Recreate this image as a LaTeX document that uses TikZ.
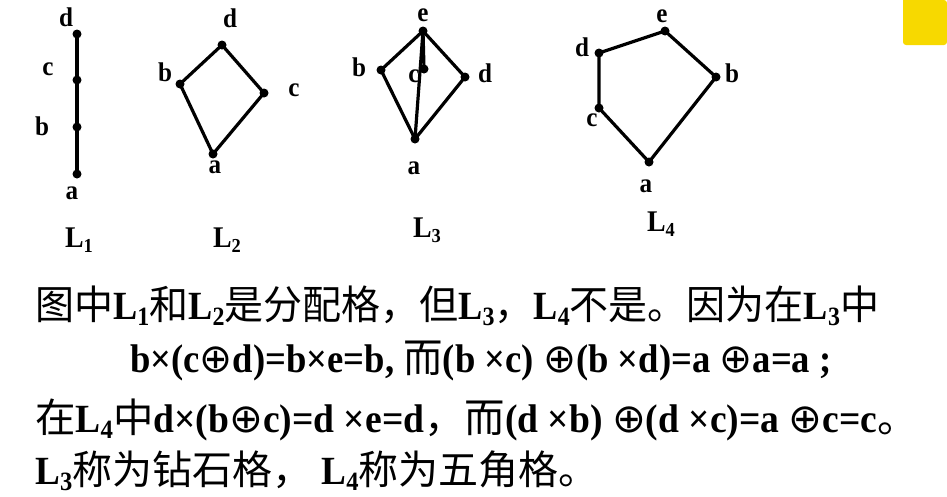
\documentclass[tikz,border=0pt]{standalone}
\usepackage{fontspec}
\setmainfont{Liberation Serif}[FakeStretch=0.93]
\newfontfamily\cjk{Noto Sans CJK SC}
\newfontfamily\symf{DejaVu Sans}
\newcommand\Lsub[1]{L\raisebox{-0.16em}{\scalebox{0.66}{#1}}}
\newcommand\zh[1]{{\cjk\mdseries #1}}
\newcommand\op{{\symf\mdseries ⊕}}
\definecolor{slideyellow}{HTML}{F7D900}
\tikzset{
  dot/.style={circle, fill=black, inner sep=0pt, minimum size=9pt},
  edge/.style={line width=3.2pt},
  lab/.style={font=\fontsize{27}{27}\selectfont\bfseries, inner sep=0pt},
  title/.style={font=\fontsize{30}{30}\selectfont\bfseries, inner sep=0pt},
  txt/.style={anchor=base west, inner sep=0pt, font=\fontsize{40}{40}\selectfont\bfseries}
}
\begin{document}
\begin{tikzpicture}[x=1pt,y=-1pt]
\useasboundingbox (0,0) rectangle (947,496);
\fill[slideyellow] (947,0) -- (903,0) -- (903,40) [rounded corners=3pt] -- (903,45) -- (947,45) -- cycle;
% L1
\node[dot] (d1) at (77,34) {};
\node[dot] (c1) at (77,80) {};
\node[dot] (b1) at (77,127) {};
\node[dot] (a1) at (77,174) {};
\draw[edge] (d1.center) -- (c1.center) -- (b1.center) -- (a1.center);
\node[lab] (ld1) at (66,17) {d};
\node[lab] (lc1) at (48,69) {c};
\node[lab] (lb1) at (42,126) {b};
\node[lab] (la1) at (72,193) {a};
\node[title] (t1) at (79,240) {\Lsub{1}};
% L2
\node[dot] (d2) at (222,45) {};
\node[dot] (b2) at (180,84) {};
\node[dot] (c2) at (264,93) {};
\node[dot] (a2) at (213,154) {};
\draw[edge] (a2.center) -- (b2.center) -- (d2.center) -- (c2.center) -- (a2.center);
\node[lab] (ld2) at (230,18) {d};
\node[lab] (lb2) at (165,72) {b};
\node[lab] (lc2) at (294,90) {c};
\node[lab] (la2) at (215,167) {a};
\node[title] (t2) at (227,240) {\Lsub{2}};
% L3
\node[dot] (e3) at (423,31) {};
\node[dot] (b3) at (381,70) {};
\node[dot] (c3) at (424,69) {};
\node[dot] (d3) at (465,77) {};
\node[dot] (a3) at (415,139) {};
\draw[edge] (a3.center) -- (b3.center) -- (e3.center) -- (d3.center) -- (a3.center);
\draw[edge] (a3.center) -- (e3.center);
\draw[edge] (c3.center) -- (e3.center);
\node[lab] (le3) at (423,15) {e};
\node[lab] (lb3) at (359,67) {b};
\node[lab] (lc3) at (414,76) {c};
\node[lab] (ld3) at (485,73) {d};
\node[lab] (la3) at (414,168) {a};
\node[title] (t3) at (427,230) {\Lsub{3}};
% L4
\node[dot] (d4) at (599,53) {};
\node[dot] (c4) at (599,108) {};
\node[dot] (a4) at (649,162) {};
\node[dot] (e4) at (665,31) {};
\node[dot] (b4) at (716,77) {};
\draw[edge] (a4.center) -- (c4.center) -- (d4.center) -- (e4.center) -- (b4.center) -- (a4.center);
\node[lab] (ld4) at (582,47) {d};
\node[lab] (lc4) at (592,120) {c};
\node[lab] (la4) at (646,186) {a};
\node[lab] (le4) at (662,16) {e};
\node[lab] (lb4) at (732,73) {b};
\node[title] (t4) at (661,224) {\Lsub{4}};
% text
\node[txt] (line1) at (35,319) {\scalebox{0.975}[1]{\zh{图中}\Lsub{1}\zh{和}\Lsub{2}\zh{是分配格，但}\Lsub{3}\zh{，}\Lsub{4}\zh{不是。因为在}\Lsub{3}\zh{中}}};
\node[txt] (line2) at (130,372) {\scalebox{0.985}[1]{b×(c\op d)=b×e=b,\ \zh{而}(b ×c) \op(b ×d)=a \op a=a ;}};
\node[txt] (line3) at (35,432) {\scalebox{1.01}[1]{\zh{在}\Lsub{4}\zh{中}d×(b\op c)=d ×e=d\zh{，而}(d ×b) \op(d ×c)=a \op c=c\zh{。}}};
\node[txt] (line4) at (35,484) {\Lsub{3}\zh{称为钻石格，} \Lsub{4}\zh{称为五角格。}};
\end{tikzpicture}
\end{document}
